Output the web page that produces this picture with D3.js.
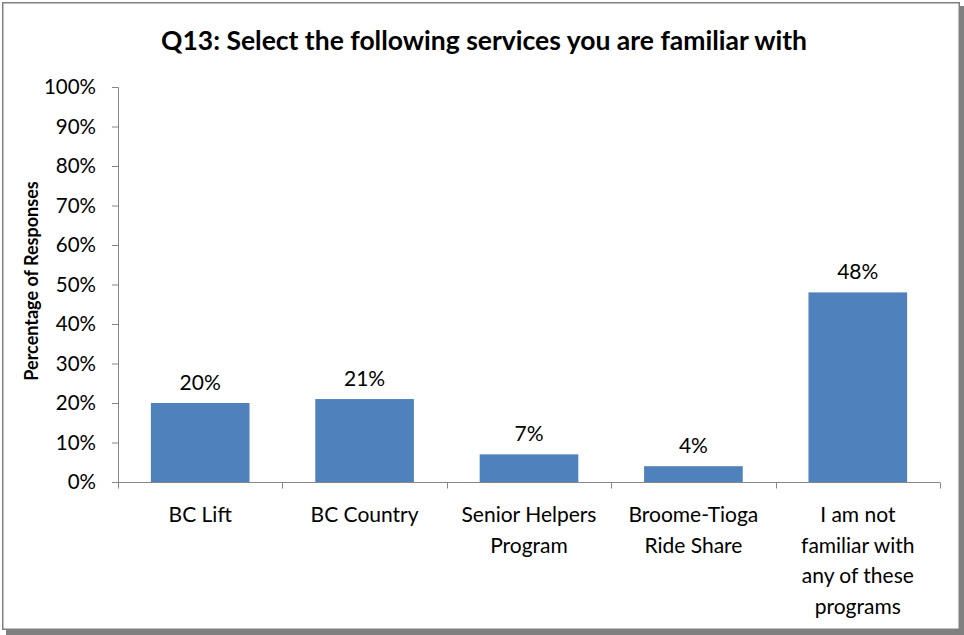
<!DOCTYPE html>
<html><head><meta charset="utf-8">
<script src="https://cdn.jsdelivr.net/npm/d3@7"></script>
<style>body{margin:0;background:#fff;} svg{display:block;}</style>
</head><body>
<svg id="chart" width="964" height="635"></svg>
<script>
const categories = ["BC Lift", "BC Country", "Senior Helpers Program", "Broome-Tioga Ride Share", "I am not familiar with any of these programs"];
const categoryLines = [["BC Lift"], ["BC Country"], ["Senior Helpers", "Program"], ["Broome-Tioga", "Ride Share"], ["I am not", "familiar with", "any of these", "programs"]];
const values = [20, 21, 7, 4, 48];
const valueLabels = ["20%", "21%", "7%", "4%", "48%"];
const yTicks = [0, 10, 20, 30, 40, 50, 60, 70, 80, 90, 100];
const title = "Q13: Select the following services you are familiar with";
const yTitle = "Percentage of Responses";

const svg = d3.select("#chart");
const font = "Lato, 'Open Sans', sans-serif";

// frame with shadow
svg.append("rect").attr("x", 6).attr("y", 6).attr("width", 958).attr("height", 629).attr("fill", "#808080");
svg.append("rect").attr("x", 2.75).attr("y", 2.75).attr("width", 956.5).attr("height", 626.5)
  .attr("fill", "#fff").attr("stroke", "#808080").attr("stroke-width", 1.5);

const m = {left: 118, right: 940, top: 87, bottom: 482};
const x = d3.scaleBand().domain(categories).range([m.left, m.right]).paddingInner(0.4).paddingOuter(0.2);
const xb = d3.scaleBand().domain(categories).range([m.left, m.right]);
const y = d3.scaleLinear().domain([0, 100]).range([m.bottom, m.top]);

// title
svg.append("text").attr("x", 484).attr("y", 50).attr("text-anchor", "middle")
  .attr("font-family", font).attr("font-weight", "bold").attr("font-size", 26.5).attr("fill", "#000")
  .text(title);

// y axis
const yAxis = d3.axisLeft(y).tickValues(yTicks).tickFormat(d => d + "%").tickSize(6).tickPadding(16);
const gy = svg.append("g").attr("transform", `translate(${m.left},0)`).call(yAxis);
gy.select(".domain").attr("stroke", "#868686").attr("d", `M-6,${m.top + 0.5}H0.5V${m.bottom}`);
gy.selectAll(".tick line").attr("stroke", "#868686");
gy.selectAll(".tick text").attr("font-family", font).attr("font-size", 20.5).attr("fill", "#000");

// x axis
const gx = svg.append("g").attr("transform", `translate(0,${m.bottom + 0.5})`);
gx.append("line").attr("x1", m.left).attr("x2", m.right).attr("stroke", "#868686");
const bounds = categories.map(c => xb(c)).concat([m.right]);
gx.selectAll(".xt").data(bounds).join("line").attr("class", "xt")
  .attr("x1", d => Math.round(d) + 0.5).attr("x2", d => Math.round(d) + 0.5).attr("y1", 0).attr("y2", 6).attr("stroke", "#868686");

// bars
svg.selectAll(".bar").data(values).join("rect").attr("class", "bar")
  .attr("x", (d, i) => x(categories[i])).attr("width", x.bandwidth())
  .attr("y", d => y(d)).attr("height", d => y(0) - y(d))
  .attr("fill", "#4f81bd");

// value labels
svg.selectAll(".vl").data(values).join("text").attr("class", "vl")
  .attr("x", (d, i) => x(categories[i]) + x.bandwidth() / 2).attr("y", d => y(d) - 13)
  .attr("text-anchor", "middle").attr("font-family", font).attr("font-size", 21).attr("fill", "#000")
  .text((d, i) => valueLabels[i]);

// category labels
categories.forEach((c, i) => {
  const t = svg.append("text").attr("text-anchor", "middle").attr("font-family", font)
    .attr("font-size", 21).attr("fill", "#000");
  categoryLines[i].forEach((ln, j) => {
    t.append("tspan").attr("x", xb(c) + xb.bandwidth() / 2).attr("y", 522 + j * 30.5).text(ln);
  });
});

// y title
svg.append("text").attr("transform", "translate(38,281) rotate(-90)").attr("text-anchor", "middle")
  .attr("font-family", font).attr("font-weight", "bold").attr("font-size", 18).attr("fill", "#000")
  .text(yTitle);
</script>
</body></html>
